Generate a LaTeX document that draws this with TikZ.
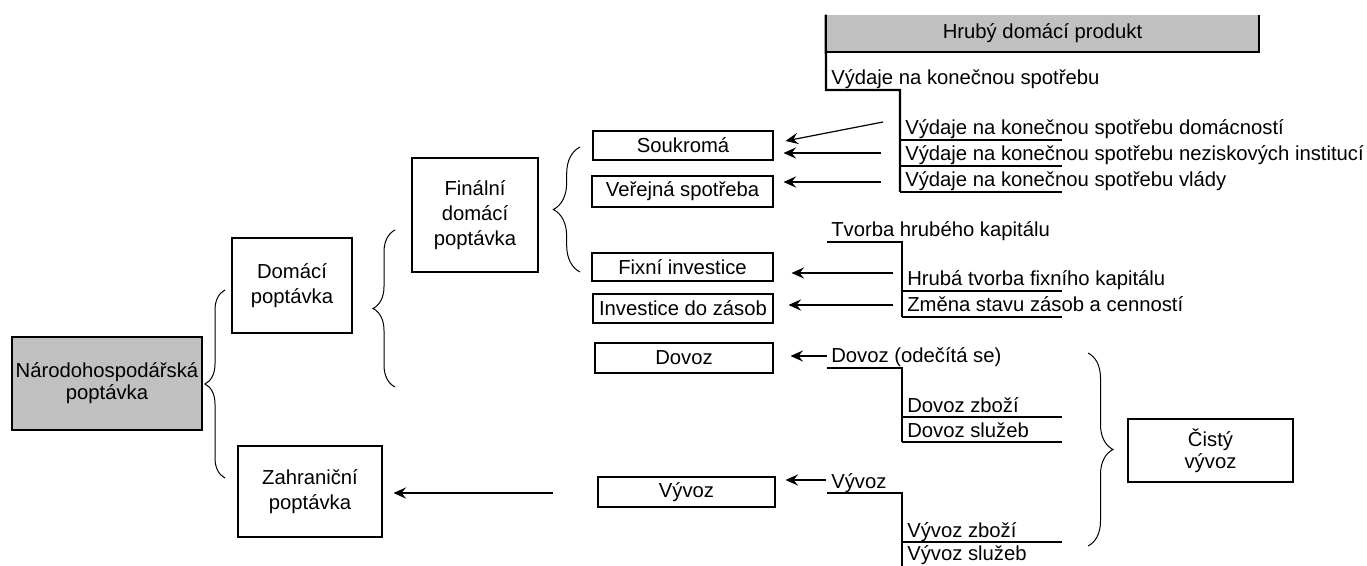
\documentclass[tikz,border=0pt]{standalone}
\usepackage{fontspec}
\setmainfont{Liberation Sans}
\usepackage{xcolor}
\usetikzlibrary{arrows.meta,decorations.pathreplacing}
\definecolor{cellgrey}{HTML}{C0C0C0}

\begin{document}
\begin{tikzpicture}[
  x=0.75pt, y=-0.75pt,
  font=\fontsize{15.2}{18.75}\selectfont,
  >={Stealth[length=9.5pt,width=8.5pt,inset=3.5pt]},
  wh/.style 2 args={minimum width=#1*0.75pt, minimum height=#2*0.75pt},
  box/.style={draw=black, line width=0.8pt, fill=white, align=center,
              inner sep=0pt},
  tight/.style={font=\fontsize{15.2}{16.5}\selectfont},
  lbl/.style={anchor=base west, inner sep=0pt},
  flow/.style={->, line width=0.9pt, black},
  tree/.style={line width=1.7pt, black},
  brc/.style={decorate, line width=0.75pt, black},
]
\useasboundingbox (0,0) rectangle (1367,566);

%% ── Demand boxes ─────────────────────────────────────────────────────────────
\node[box, fill=cellgrey, wh={190}{93}, tight] (ndp)  at (107,383.5) {Národohospodářská\\poptávka};
\node[box, wh={120}{95}]  (dom)  at (292,285.5) {Domácí\\poptávka};
\node[box, wh={144}{91}]  (zahr) at (310,491.5) {Zahraniční\\poptávka};
\node[box, wh={126}{114}] (fin)  at (475,215)   {Finální\\domácí\\poptávka};

%% ── Component boxes ──────────────────────────────────────────────────────────
\node[box, wh={180}{29}] (souk)  at (683,145.5)   {Soukromá};
\node[box, wh={181}{31}] (verej) at (682.5,191.5) {Veřejná spotřeba};
\node[box, wh={181}{28}] (fix)   at (682.5,267)   {Fixní investice};
\node[box, wh={180}{29}] (zas)   at (683,308.5)   {Investice do zásob};
\node[box, wh={178}{30}] (dov)   at (684,358)     {Dovoz};
\node[box, wh={177}{30}] (vyv)   at (686.5,492)   {Vývoz};
\node[box, wh={165}{63}, tight] (cist) at (1210.5,450.5) {Čistý\\vývoz};

%% ── Braces ───────────────────────────────────────────────────────────────────
\draw[brc, decoration={brace, amplitude=15pt}]    (225,478) -- (225,290);
\draw[brc, decoration={brace, amplitude=16.5pt}]  (395,387) -- (395,230);
\draw[brc, decoration={brace, amplitude=20pt}]    (580,272) -- (580,147);
\draw[brc, decoration={brace, amplitude=18.75pt}] (1088,353) -- (1088,546);

%% ── GDP header cell ──────────────────────────────────────────────────────────
\node[fill=cellgrey, wh={433}{37}, inner sep=0pt] (hdp) at (1042.5,33.5) {Hrubý domácí produkt};
\draw[tree] (hdp.south west) -- (hdp.south east) -- (hdp.north east);

%% ── Final consumption expenditure ────────────────────────────────────────────
\node[lbl] (vks)  at (831,85)  {Výdaje na konečnou spotřebu};
\node[lbl] (vdom) at (905,135) {Výdaje na konečnou spotřebu domácností};
\node[lbl] (vnez) at (905,161) {Výdaje na konečnou spotřebu neziskových institucí};
\node[lbl] (vvl)  at (905,187) {Výdaje na konečnou spotřebu vlády};
\draw[tree] (hdp.north west) -- (826,90) -- (900,90) -- (900,192);
\draw[tree] (900,140) -- (1062,140);
\draw[tree] (900,166) -- (1062,166);
\draw[tree] (900,192) -- (1062,192);

%% ── Gross capital formation ──────────────────────────────────────────────────
\node[lbl] (thk)  at (831,237) {Tvorba hrubého kapitálu};
\node[lbl] (htfk) at (907,286) {Hrubá tvorba fixního kapitálu};
\node[lbl] (zsz)  at (907,312) {Změna stavu zásob a cenností};
\draw[tree] (827,242) -- (902,242) -- (902,317);
\draw[tree] (902,291) -- (1062,291);
\draw[tree] (902,317) -- (1062,317);

%% ── Imports ──────────────────────────────────────────────────────────────────
\node[lbl] (dovz) at (831,363) {Dovoz (odečítá se)};
\node[lbl] (dzb)  at (907,412) {Dovoz zboží};
\node[lbl] (dsl)  at (907,437) {Dovoz služeb};
\draw[tree] (827,368) -- (902,368) -- (902,442);
\draw[tree] (902,417) -- (1062,417);
\draw[tree] (902,442) -- (1062,442);

%% ── Exports ──────────────────────────────────────────────────────────────────
\node[lbl] (vyvz) at (831,488) {Vývoz};
\node[lbl] (vzb)  at (907,537) {Vývoz zboží};
\node[lbl] (vsl)  at (907,560) {Vývoz služeb};
\draw[tree] (827,493) -- (902,493) -- (902,566);
\draw[tree] (902,542) -- (1062,542);

%% ── Flow arrows ──────────────────────────────────────────────────────────────
\coordinate (a1) at (883,122);
\coordinate (a2) at (881,153);
\coordinate (a3) at (881,182);
\coordinate (a4) at (893,273);
\coordinate (a5) at (893,305);
\coordinate (a6) at (827,356);
\coordinate (a7) at (826,480);
\coordinate (a8) at (553,493);
\draw[flow] (a1) -- ([xshift=9pt,yshift=3.4pt]souk.east);
\draw[flow, shorten >=7.5pt]   (a2) -- (a2 -| souk.east);
\draw[flow, shorten >=7.5pt]   (a3) -- (a3 -| verej.east);
\draw[flow, shorten >=13.5pt]  (a4) -- (a4 -| fix.east);
\draw[flow, shorten >=11.25pt] (a5) -- (a5 -| zas.east);
\draw[flow, shorten >=12.75pt] (a6) -- (a6 -| dov.east);
\draw[flow, shorten >=7.5pt]   (a7) -- (a7 -| vyv.east);
\draw[flow, shorten >=8.25pt]  (a8) -- (a8 -| zahr.east);

\end{tikzpicture}
\end{document}
